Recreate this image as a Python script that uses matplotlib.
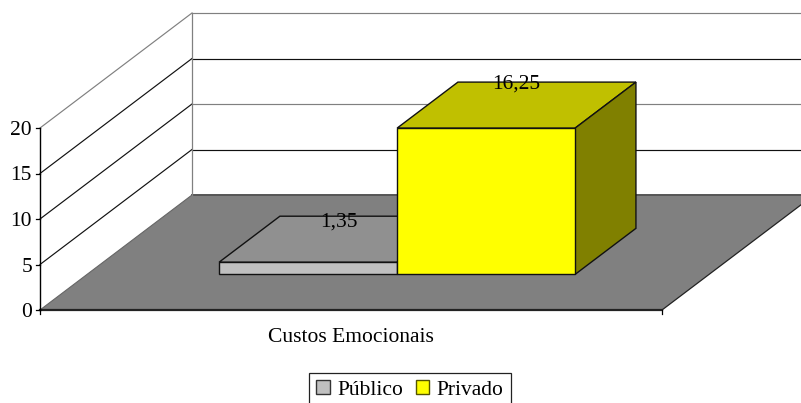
import matplotlib
matplotlib.use("Agg")
import matplotlib.pyplot as plt
from matplotlib.patches import Polygon, Patch

plt.rcParams['font.family'] = ['Liberation Serif', 'DejaVu Serif']

category = "Custos Emocionais"
series_names = ["Público", "Privado"]
series_values = [1.35, 16.25]
series_labels = ["1,35", "16,25"]
y_ticks = [0, 5, 10, 15, 20]

# oblique projection: value units and plot fractions -> pixels
X0, Y0 = 40.0, 310.0
WIDTH = 622.0
DX, DY = 152.0, -115.0
VALUE_PX = 9.1
BAR_PX = 9.0


def proj(u, v, d, scale=VALUE_PX):
    return (X0 + u * WIDTH + d * DX, Y0 - v * scale + d * DY)


fig = plt.figure(figsize=(8.01, 4.03), dpi=100)
ax = fig.add_axes([0, 0, 1, 1])
ax.set_xlim(0, 801)
ax.set_ylim(403, 0)
ax.axis('off')

TOP = y_ticks[-1]
FS = 15.5
# floor
ax.add_patch(Polygon([proj(0, 0, 0), proj(1, 0, 0), proj(1, 0, 1), proj(0, 0, 1)],
                     fc='#808080', ec='none', zorder=1))
ax.plot(*zip(proj(0, 0, 1), proj(1, 0, 1)), color='#555555', lw=1.4, zorder=2)
ax.plot(*zip(proj(1, 0, 0), proj(1, 0, 1)), color='#222222', lw=0.9, zorder=2)
ax.plot(*zip(proj(0, 0, 0), proj(0, 0, 1)), color='#666666', lw=0.8, zorder=2)

# gridlines on side and back walls
for t in y_ticks[1:]:
    c = '#808080' if t in (10, 20) else '#111111'
    cs = '#808080' if t == 20 else '#111111'
    ax.plot(*zip(proj(0, t, 0), proj(0, t, 1)), color=cs, lw=0.85, zorder=2)
    ax.plot(*zip(proj(0, t, 1), proj(1, t, 1)), color=c, lw=0.85, zorder=2)
ax.plot(*zip(proj(0, 0, 1), proj(0, TOP, 1)), color='#808080', lw=0.9, zorder=2)

# bars
slots = [(0.2122, 0.4984, '#C0C0C0', '#909090', '#606060'),
         (0.4984, 0.7846, '#FFFF00', '#C0C000', '#808000')]
D0, D1 = 0.31, 0.71
for i, (val, (u0, u1, front, top, side)) in enumerate(zip(series_values, slots)):
    z = 4 + i
    kw = dict(ec='#111111', lw=1.0, joinstyle='miter', zorder=z)
    ax.add_patch(Polygon([proj(u0, val, D0, BAR_PX), proj(u1, val, D0, BAR_PX),
                          proj(u1, val, D1, BAR_PX), proj(u0, val, D1, BAR_PX)], fc=top, **kw))
    ax.add_patch(Polygon([proj(u1, 0, D0, BAR_PX), proj(u1, val, D0, BAR_PX),
                          proj(u1, val, D1, BAR_PX), proj(u1, 0, D1, BAR_PX)], fc=side, **kw))
    ax.add_patch(Polygon([proj(u0, 0, D0, BAR_PX), proj(u1, 0, D0, BAR_PX),
                          proj(u1, val, D0, BAR_PX), proj(u0, val, D0, BAR_PX)], fc=front, **kw))

# data labels
for val, lab, u0, u1 in [(series_values[0], series_labels[0], slots[0][0], slots[0][1]),
                         (series_values[1], series_labels[1], slots[1][0], slots[1][1])]:
    x, _ = proj((u0 + u1) / 2, val, (D0 + D1) / 2, BAR_PX)
    _, y = proj((u0 + u1) / 2, val, D1, BAR_PX)
    ax.text(x, y + 6 if val < 5 else y + 1.5, lab, ha='center', va='center',
            fontsize=FS, color='black', zorder=8)

# axes
ax.plot(*zip(proj(0, 0, 0), proj(0, TOP, 0)), color='black', lw=1.0, zorder=6)
ax.plot(*zip(proj(0, 0, 0), proj(1, 0, 0)), color='#222222', lw=1.6, zorder=3)
for t in y_ticks:
    x, y = proj(0, t, 0)
    ax.plot([x - 4, x], [y, y], color='black', lw=0.9, zorder=6)
    ax.text(x - 8, y + 2.5, str(t), ha='right', va='center', fontsize=FS, color='black')
for u in (0, 1):
    x, y = proj(u, 0, 0)
    ax.plot([x, x], [y, y + 4], color='black', lw=0.9, zorder=6)

ax.text(351, 338, category, ha='center', va='center', fontsize=FS, color='black')

handles = [Patch(fc=slots[0][2], ec='#333333', lw=1.0, label=series_names[0]),
           Patch(fc=slots[1][2], ec='#555500', lw=1.0, label=series_names[1])]
leg = ax.legend(handles=handles, ncol=2, loc='center', bbox_to_anchor=(410, 390),
                bbox_transform=ax.transData, fontsize=FS, frameon=True, fancybox=False,
                edgecolor='#222222', framealpha=1, handlelength=0.62, handleheight=0.62,
                handletextpad=0.35, columnspacing=0.6, borderpad=0.35, borderaxespad=0)
leg.get_frame().set_linewidth(0.9)

fig.savefig("out.png", dpi=100)
